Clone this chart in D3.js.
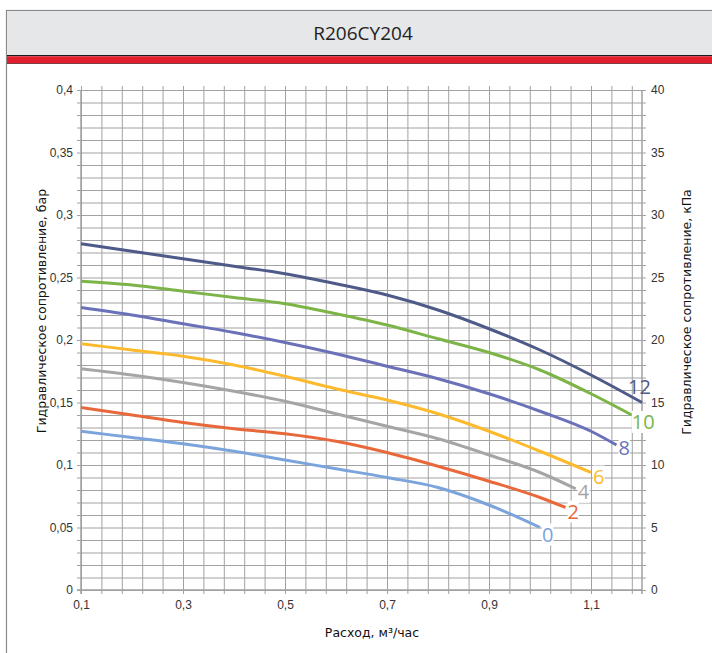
<!DOCTYPE html>
<html><head><meta charset="utf-8">
<script src="https://cdn.jsdelivr.net/npm/d3@7"></script>
<style>
html,body{margin:0;padding:0;background:#fff;}
svg{display:block;}
</style></head>
<body>
<svg id="chart" width="712" height="653"></svg>
<script>
// ---- data ----
const title = "R206CY204";
const xTickValues = [0.1, 0.3, 0.5, 0.7, 0.9, 1.1];
const yLeftTickValues = [0, 0.05, 0.1, 0.15, 0.2, 0.25, 0.3, 0.35, 0.4];
const yRightTickValues = [0, 5, 10, 15, 20, 25, 30, 35, 40];
const xAxisTitle = "Расход, м³/час";
const yLeftTitle = "Гидравлическое сопротивление, бар";
const yRightTitle = "Гидравлическое сопротивление, кПа";

const seriesNames = ["0", "2", "4", "6", "8", "10", "12"];
const seriesColors = ["#7ba4dc", "#e9683a", "#a5a5a5", "#fcba2c", "#6a71b9", "#7cb447", "#4e5a88"];
const flow0  = [0.1,0.2,0.3,0.4,0.5,0.6,0.7,0.8,0.9,1.0];
const loss0  = [0.127,0.122,0.117,0.111,0.104,0.097,0.090,0.082,0.068,0.050];
const flow2  = [0.1,0.2,0.3,0.4,0.5,0.6,0.7,0.8,0.9,1.0,1.05];
const loss2  = [0.146,0.140,0.134,0.129,0.125,0.119,0.110,0.099,0.087,0.074,0.066];
const flow4  = [0.1,0.2,0.3,0.4,0.5,0.6,0.7,0.8,0.9,1.0,1.07];
const loss4  = [0.177,0.172,0.166,0.159,0.151,0.141,0.131,0.121,0.108,0.094,0.081];
const flow6  = [0.1,0.2,0.3,0.4,0.5,0.6,0.7,0.8,0.9,1.0,1.1];
const loss6  = [0.197,0.192,0.187,0.180,0.171,0.161,0.152,0.141,0.127,0.111,0.094];
const flow8  = [0.1,0.2,0.3,0.4,0.5,0.6,0.7,0.8,0.9,1.0,1.1,1.15];
const loss8  = [0.226,0.220,0.213,0.206,0.198,0.189,0.179,0.169,0.157,0.143,0.127,0.116];
const flow10 = [0.1,0.2,0.3,0.4,0.5,0.6,0.7,0.8,0.9,1.0,1.1,1.18];
const loss10 = [0.247,0.244,0.239,0.234,0.229,0.221,0.212,0.201,0.190,0.176,0.157,0.140];
const flow12 = [0.1,0.2,0.3,0.4,0.5,0.6,0.7,0.8,0.9,1.0,1.1,1.2];
const loss12 = [0.277,0.271,0.265,0.259,0.253,0.245,0.236,0.224,0.209,0.192,0.172,0.150];

const flows = [flow0, flow2, flow4, flow6, flow8, flow10, flow12];
const losses = [loss0, loss2, loss4, loss6, loss8, loss10, loss12];
const series = seriesNames.map((n, i) => ({
  name: n, color: seriesColors[i],
  values: flows[i].map((f, j) => ({x: f, y: losses[i][j]}))
}));

// ---- layout ----
const svg = d3.select("#chart");
const L = 81, R = 642, T = 90, B = 590;
const x = d3.scaleLinear().domain([0.1, 1.2]).range([L, R]);
const y = d3.scaleLinear().domain([0, 0.4]).range([B, T]);
const yR = d3.scaleLinear().domain([0, 40]).range([B, T]);
const comma = v => String(+v.toFixed(4)).replace(".", ",");

// frame & header
svg.append("rect").attr("x", 6.5).attr("y", 10.5).attr("width", 720).attr("height", 700)
  .attr("fill", "#fff").attr("stroke", "#8a8a8a").attr("stroke-width", 1.2);
svg.append("rect").attr("x", 7).attr("y", 11).attr("width", 710).attr("height", 44).attr("fill", "#e6e7e9");
svg.append("rect").attr("x", 7).attr("y", 55).attr("width", 710).attr("height", 1.3).attr("fill", "#1a1a1a");
svg.append("rect").attr("x", 7).attr("y", 56.3).attr("width", 710).attr("height", 6.7).attr("fill", "#e31f2e");
svg.append("rect").attr("x", 7).attr("y", 63).attr("width", 710).attr("height", 0.8).attr("fill", "#5a1016");
svg.append("text").attr("x", 363).attr("y", 40).attr("text-anchor", "middle")
  .attr("font-family", "'Liberation Sans Narrow','Open Sans',sans-serif").attr("font-size", 19)
  .attr("fill", "#222").text(title);

// grid
const vGrid = d3.range(0, 28).map(i => 0.1 + i * 0.04);
const hGrid = d3.range(0, 41).map(i => i * 0.01);
const gridCol = "#a2a2a2";
const g = svg.append("g");
g.append("g").attr("transform", `translate(0,${B})`)
  .call(d3.axisBottom(x).tickValues(vGrid).tickSize(-(B - T) - 4).tickSizeOuter(0).tickFormat(""))
  .call(s => s.select(".domain").remove())
  .call(s => s.selectAll("line").attr("stroke", gridCol).attr("y1", 4));
g.append("g").attr("transform", `translate(${L},0)`)
  .call(d3.axisLeft(y).tickValues(hGrid).tickSize(-(R - L) - 4).tickFormat(""))
  .call(s => s.select(".domain").remove())
  .call(s => s.selectAll("line").attr("stroke", gridCol).attr("x1", -4));
// axis lines
g.append("line").attr("x1", L).attr("x2", L).attr("y1", T).attr("y2", B + 4).attr("stroke", "#a0a0a0").attr("stroke-width", 1.5);
g.append("line").attr("x1", R).attr("x2", R).attr("y1", T).attr("y2", B + 4).attr("stroke", "#a0a0a0").attr("stroke-width", 1.5);
g.append("line").attr("x1", L - 4).attr("x2", R).attr("y1", B).attr("y2", B).attr("stroke", "#a0a0a0").attr("stroke-width", 1.5);

// tick labels
const tickFont = "'Liberation Sans','Open Sans',sans-serif";
const axB = svg.append("g").attr("transform", `translate(0,${B})`)
  .call(d3.axisBottom(x).tickValues(xTickValues).tickSize(0).tickPadding(10).tickFormat(comma));
const axL = svg.append("g").attr("transform", `translate(${L},0)`)
  .call(d3.axisLeft(y).tickValues(yLeftTickValues).tickSize(0).tickPadding(8).tickFormat(comma));
const axR = svg.append("g").attr("transform", `translate(${R},0)`)
  .call(d3.axisRight(yR).tickValues(yRightTickValues).tickSize(0).tickPadding(9).tickFormat(d3.format("d")));
[axB, axL, axR].forEach(a => {
  a.select(".domain").remove();
  a.selectAll("text").attr("font-family", tickFont).attr("font-size", 12).attr("fill", "#333");
});

// axis titles
const titleFont = "'DejaVu Sans',sans-serif";
svg.append("text").attr("x", 372).attr("y", 637).attr("text-anchor", "middle")
  .attr("font-family", titleFont).attr("font-size", 12.5).attr("fill", "#111").text(xAxisTitle);
svg.append("text").attr("transform", "translate(46,311) rotate(-90)").attr("text-anchor", "middle")
  .attr("font-family", titleFont).attr("font-size", 12.5).attr("fill", "#111").text(yLeftTitle);
svg.append("text").attr("transform", "translate(691,312) rotate(-90)").attr("text-anchor", "middle")
  .attr("font-family", titleFont).attr("font-size", 12.5).attr("fill", "#111").text(yRightTitle);

// lines
const line = d3.line().x(d => x(d.x)).y(d => y(d.y)).curve(d3.curveMonotoneX);
svg.append("g").selectAll("path").data(series).join("path")
  .attr("d", d => line(d.values)).attr("fill", "none")
  .attr("stroke", d => d.color).attr("stroke-width", 3).attr("stroke-linecap", "butt");

// end labels
const labelOffsets = {"0": [2, 14], "2": [2, 11], "4": [2, 10], "6": [2, 11], "8": [2, 10], "10": [0, 14], "12": [-14, -9]};
const lg = svg.append("g");
series.forEach(s => {
  const last = s.values[s.values.length - 1];
  const off = labelOffsets[s.name];
  const grp = lg.append("g");
  const t = grp.append("text").attr("x", x(last.x) + off[0]).attr("y", y(last.y) + off[1])
    .attr("font-family", "'Liberation Sans Narrow','Open Sans',sans-serif").attr("font-size", 20)
    .attr("fill", s.color).text(s.name);
  const bb = t.node().getBBox();
  if (s.name !== "12") {
    grp.insert("rect", "text").attr("x", bb.x).attr("y", bb.y + 3).attr("width", bb.width).attr("height", bb.height - 5).attr("fill", "#fff");
  }
});
</script>
</body></html>
